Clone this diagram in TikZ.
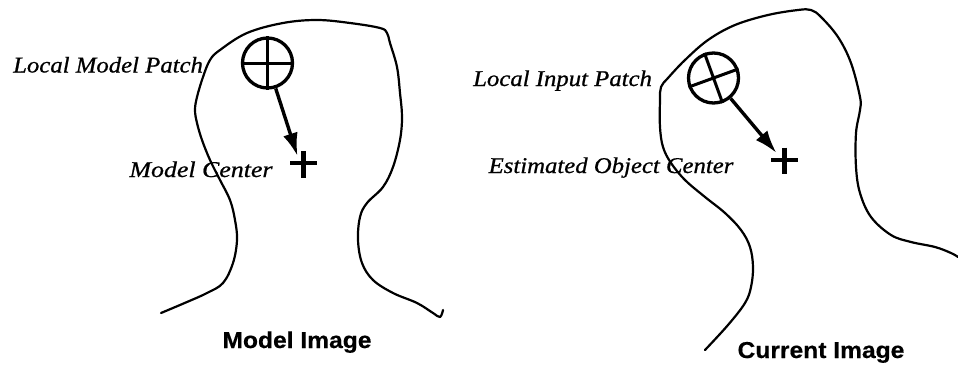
\documentclass[tikz,border=0pt]{standalone}
\usepackage{fontspec}
\usepackage{graphicx}
\setmainfont{Liberation Serif}
\setsansfont{Liberation Sans}
\newfontfamily\lblfont{Liberation Serif Italic}[FakeBold=0.7]
\newfontfamily\ttlfont{Liberation Sans Bold}[FakeBold=0.5]
\usetikzlibrary{arrows.meta}
\begin{document}
\begin{tikzpicture}[x=1pt,y=-1pt,
  outline/.style={line width=2.2pt, line join=round, line cap=round},
  patch/.style={circle, draw, line width=3.3pt, minimum size=50pt, inner sep=0pt},
  crossline/.style={line width=3pt},
  arr/.style={line width=3.4pt, -{Latex[length=23pt,width=15pt]}},
  plusmark/.style={line width=4.2pt},
  lbl/.style={font=\fontsize{22.5}{25}\lblfont, inner sep=0pt, anchor=base},
  ttl/.style={font=\fontsize{23}{26}\ttlfont, inner sep=0pt, anchor=base}]
\useasboundingbox (0,0) rectangle (958,364);

% left head outline
\draw[outline] plot[smooth, tension=0.6] coordinates {
 (161,313) (187,302) (207,293) (223,283) (233,263) (237,240) (235,220) (230,200)
 (220,180) (210,160) (202,140) (197,123) (195,110) (197,97) (203,77) (210,60)
 (220,50) (247,33) (283,23) (317,20) (350,23) (380,28) (387,33) (390,43)
 (397,67) (400,93) (402,117) (400,140) (393,167) (383,187) (367,203) (360,217)
 (358,240) (362,263) (373,280) (393,293) (417,303) (433,313) (440,317) (443,310)};

% right head outline
\draw[outline] plot[smooth, tension=0.6] coordinates {
 (705,350) (728,325) (745,303) (751,287) (753,267) (750,247) (741,230) (725,213)
 (705,197) (685,180) (671,163) (663,147) (660,127) (660,100) (661,87) (668,78)
 (685,60) (708,40) (735,25) (768,15) (798,10) (811,10) (821,17) (838,37)
 (851,63) (860,97) (860,110) (856,133) (856,167) (860,193) (871,217) (891,235)
 (911,242) (935,247) (951,253) (958,257)};

% left patch and center
\node[patch] (pL) at (267.5,63) {};
\draw[crossline] (pL.west) -- (pL.east) (pL.north) -- (pL.south);
\coordinate (cL) at (303.5,163);
\coordinate (tL) at (297.5,156);
\draw[arr] (pL) -- (tL);
\draw[plusmark] (cL) +(-13.5,0) -- +(13.5,0) (cL) +(0,-12) -- +(0,15);

% right patch and center
\node[patch] (pR) at (713.5,78) {};
\draw[crossline] (pR.200) -- (pR.20) (pR.110) -- (pR.290);
\coordinate (cR) at (784.5,160);
\coordinate (tR) at (776.5,153);
\draw[arr] (pR) -- (tR);
\draw[plusmark] (cR) +(-13.5,0) -- +(13.5,0) (cR) +(0,-12.5) -- +(0,14);

% labels
\node[lbl, anchor=base west] (lmp) at (13,72.5) {\scalebox{1.1}[1]{Local Model Patch}};
\node[lbl] (mc) at (201,177) {\scalebox{1.15}[1]{Model Center}};
\node[lbl, anchor=base west] (lip) at (473,86) {\scalebox{1.1}[1]{Local Input Patch}};
\node[lbl] (eoc) at (611,173) {\scalebox{1.1}[1]{Estimated Object Center}};
\node[ttl] (mi) at (297,348) {\scalebox{1.07}[1]{Model Image}};
\node[ttl] (ci) at (821,358) {\scalebox{1.07}[1]{Current Image}};
\end{tikzpicture}
\end{document}
